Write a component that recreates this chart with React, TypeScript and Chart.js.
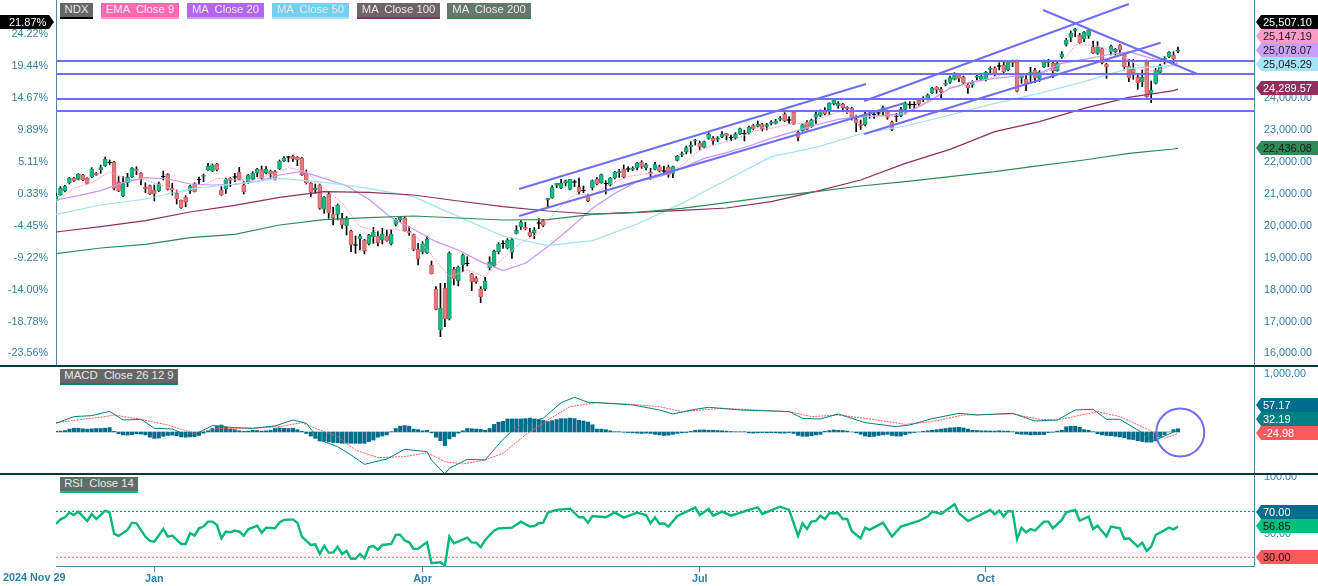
import React, { useEffect, useRef } from 'react';
import { Chart, registerables } from 'chart.js';

Chart.register(...registerables);

// daily candles, NDX 2024 Nov 29 onward
const opens = [
  20791, 20979, 21094, 21345, 21502, 21460, 21596, 21491, 21533, 21658,
  21763, 21888, 21982, 21993, 21366, 20937, 21355, 21544, 21784, 21648,
  21220, 21261, 21115, 21105, 21533, 21617, 21178, 21021, 20802, 20896,
  21105, 21324, 21449, 21554, 21763, 21721, 21941, 21115, 21167, 21491,
  21523, 21679, 21282, 21376, 21470, 21658, 21763, 21669, 21711, 21700,
  21784, 22045, 22150, 22181, 22150, 22118, 21658, 21335, 21136, 21282,
  20519, 21000, 20363, 20363, 20216, 20007, 19840, 19391, 19600, 19548,
  19443, 19663, 19683, 19558, 19683, 19433, 20049, 20195, 20248, 19840,
  19725, 19265, 19192, 19161, 18764, 18022, 16747, 18043, 17092, 18638,
  18283, 18785, 18816, 18482, 18367, 18022, 18032, 18680, 18753, 19192,
  19433, 19307, 19171, 19767, 19965, 19955, 19809, 19777, 20081, 20164,
  20822, 20885, 21272, 21199, 21355, 21146, 21366, 21209, 21094, 20927,
  21199, 21460, 21355, 21314, 21282, 21512, 21669, 21773, 21773, 21773,
  21826, 21993, 21826, 21690, 21773, 21857, 21711, 21836, 21648, 22056,
  22223, 22327, 22484, 22662, 22589, 22463, 22745, 22745, 22714, 22798,
  22892, 22756, 22766, 22892, 22881, 22923, 23142, 23121, 23174, 23121,
  23216, 23216, 23341, 23508, 23310, 23571, 22933, 22986, 23257, 23111,
  23404, 23466, 23613, 23644, 23832, 23769, 23811, 23717, 23686, 23341,
  23195, 23174, 23508, 23487, 23529, 23581, 23592, 23247, 23414, 23445,
  23654, 23790, 23790, 23947, 23947, 24000, 24177, 24344, 24281, 24438,
  24501, 24595, 24741, 24658, 24407, 24417, 24658, 24595, 24584, 24908,
  24950, 25002, 25044, 24887, 25159, 25159, 24637, 24595, 24720, 24877,
  24626, 24992, 25128, 25107, 24867, 25306, 25692, 25912, 26121, 25974,
  25859, 25953, 25609, 25410, 25556, 25065, 25452, 25462, 25661, 25389,
  25013, 24919, 24658, 24511, 25138, 24156, 24470, 24814, 25201, 25295,
  25347, 25473,
];
const closes = [
  20937, 21178, 21251, 21491, 21418, 21617, 21439, 21335, 21784, 21606,
  21826, 22087, 22003, 21178, 21094, 21324, 21523, 21805, 21732, 21481,
  21167, 21011, 21011, 21324, 21554, 21146, 21136, 20843, 20561, 20749,
  21251, 21073, 21470, 21596, 21878, 21909, 21753, 20979, 21460, 21429,
  21544, 21460, 21063, 21585, 21648, 21773, 21491, 21773, 21627, 21460,
  22035, 22129, 22171, 22108, 22066, 21606, 21345, 21052, 21178, 20551,
  20896, 20415, 20248, 20645, 20039, 20237, 19401, 19412, 19673, 19224,
  19715, 19809, 19474, 19736, 19537, 19746, 20185, 20279, 19851, 19788,
  19265, 18973, 19422, 19579, 18503, 17384, 17416, 17092, 19140, 18346,
  18701, 19088, 18837, 18252, 18252, 17781, 18273, 18858, 19203, 19433,
  19454, 19548, 19569, 19861, 20112, 19903, 19694, 19861, 20101, 20018,
  20864, 21220, 21335, 21335, 21418, 21460, 21387, 21063, 21115, 20791,
  21418, 21314, 21606, 21335, 21491, 21679, 21700, 21544, 21794, 21805,
  21961, 21857, 21920, 21638, 21920, 21721, 21732, 21596, 21857, 22181,
  22265, 22453, 22526, 22693, 22474, 22641, 22881, 22672, 22745, 22871,
  22818, 22777, 22871, 23048, 22902, 23090, 23048, 23184, 23048, 23174,
  23257, 23289, 23383, 23299, 23330, 23195, 22777, 23174, 23027, 23320,
  23508, 23613, 23518, 23842, 23947, 23842, 23707, 23675, 23404, 23236,
  23132, 23477, 23529, 23508, 23550, 23707, 23404, 23027, 23435, 23654,
  23842, 23811, 23811, 23832, 23989, 24104, 24313, 24260, 24198, 24470,
  24647, 24773, 24626, 24490, 24334, 24511, 24699, 24689, 24814, 24940,
  24783, 25023, 24825, 25149, 25107, 24219, 24720, 24449, 24825, 24647,
  24814, 25159, 25170, 24867, 25097, 25389, 25828, 26047, 26162, 25744,
  26068, 26142, 25431, 25609, 25117, 24992, 25629, 25535, 25514, 24992,
  24647, 24793, 24490, 24658, 24052, 24260, 24887, 25023, 25253, 25441,
  25243, 25507.1,
];
const highs = [
  21021, 21230, 21272, 21523, 21523, 21638, 21617, 21512, 21826, 21679,
  21909, 22160, 22066, 22024, 21544, 21544, 21648, 21826, 21857, 21669,
  21355, 21282, 21282, 21376, 21721, 21638, 21335, 21125, 20812, 20948,
  21282, 21355, 21533, 21627, 21961, 21941, 21961, 21230, 21502, 21523,
  21648, 21836, 21387, 21617, 21700, 21805, 21878, 21857, 21753, 21732,
  22066, 22171, 22181, 22223, 22171, 22139, 21753, 21355, 21314, 21314,
  20917, 21063, 20582, 20687, 20394, 20290, 19872, 19683, 19736, 19579,
  19736, 19955, 19819, 19924, 19872, 19872, 20237, 20290, 20290, 19976,
  19746, 19454, 19506, 19683, 18900, 18095, 18200, 18200, 19192, 18701,
  18743, 19119, 19035, 18513, 18408, 18095, 18388, 19035, 19245, 19474,
  19537, 19600, 19610, 20007, 20164, 20112, 19924, 19945, 20227, 20206,
  20864, 21261, 21335, 21460, 21439, 21460, 21439, 21502, 21251, 21000,
  21439, 21512, 21627, 21418, 21523, 21711, 21773, 21909, 21857, 21857,
  21982, 22045, 21961, 21805, 21993, 21909, 21878, 21909, 21878, 22212,
  22317, 22505, 22641, 22714, 22662, 22662, 22923, 22798, 22798, 22954,
  22902, 22850, 22923, 23069, 23000, 23132, 23184, 23289, 23216, 23216,
  23299, 23341, 23425, 23550, 23425, 23581, 22986, 23195, 23299, 23351,
  23581, 23634, 23707, 23863, 23968, 23895, 23842, 23738, 23717, 23477,
  23320, 23581, 23581, 23581, 23634, 23759, 23634, 23289, 23529, 23717,
  23884, 23895, 23895, 24000, 24051, 24135, 24344, 24365, 24344, 24574,
  24699, 24804, 24783, 24699, 24470, 24553, 24762, 24731, 24846, 24992,
  24992, 25117, 25128, 25180, 25201, 25201, 24762, 24731, 24971, 24940,
  24867, 25201, 25222, 25138, 25149, 25462, 25880, 26110, 26194, 26037,
  26089, 26162, 25797, 25776, 25577, 25097, 25671, 25567, 25682, 25410,
  25222, 25222, 24762, 24887, 25201, 24543, 24940, 25076, 25306, 25462,
  25462, 25609,
];
const lows = [
  20770, 20958, 21063, 21314, 21397, 21439, 21418, 21314, 21512, 21585,
  21648, 21867, 21920, 21125, 21073, 20917, 21230, 21523, 21606, 21282,
  21042, 20990, 20781, 21073, 21439, 21125, 20969, 20687, 20551, 20603,
  21021, 21063, 21303, 21387, 21742, 21700, 21721, 20958, 21021, 21230,
  21387, 21439, 21000, 21335, 21439, 21544, 21460, 21627, 21491, 21439,
  21763, 22024, 22003, 22024, 21888, 21585, 21314, 20917, 21021, 20519,
  20394, 20237, 20028, 20185, 19924, 19715, 19192, 19140, 19245, 19119,
  19401, 19454, 19370, 19433, 19516, 19401, 19997, 20133, 19830, 19704,
  19224, 18774, 19119, 19140, 18492, 17364, 16527, 16841, 17050, 18147,
  18116, 18565, 18743, 17970, 18200, 17593, 17970, 18618, 18722, 19119,
  19297, 19276, 18983, 19746, 19892, 19872, 19663, 19600, 19913, 19976,
  20582, 20864, 21199, 21167, 21251, 21125, 21230, 20990, 21042, 20760,
  21125, 21282, 21335, 21000, 21251, 21470, 21523, 21491, 21700, 21732,
  21753, 21805, 21753, 21460, 21753, 21690, 21669, 21523, 21512, 22035,
  22171, 22254, 22275, 22536, 22380, 22442, 22714, 22557, 22641, 22766,
  22693, 22672, 22714, 22871, 22662, 22881, 23007, 23100, 22975, 23007,
  23163, 23195, 23289, 23268, 23216, 23174, 22662, 22965, 23007, 23090,
  23216, 23425, 23477, 23498, 23790, 23686, 23634, 23529, 23320, 22954,
  23027, 23132, 23372, 23372, 23477, 23477, 23341, 22986, 23268, 23425,
  23508, 23686, 23686, 23780, 23895, 23947, 24156, 24156, 23989, 24386,
  24470, 24574, 24522, 24449, 24156, 24344, 24574, 24553, 24543, 24762,
  24699, 24887, 24762, 24856, 24992, 24198, 24470, 24240, 24470, 24490,
  24522, 24971, 24992, 24647, 24846, 25253, 25640, 25776, 25932, 25723,
  25776, 25880, 25410, 25379, 25076, 24626, 25358, 25358, 25410, 24887,
  24522, 24595, 24281, 24365, 24031, 23863, 24449, 24783, 25076, 25274,
  25117, 25431,
];

// moving averages at these bar numbers
const slowIdx = [0, 10, 20, 30, 40, 50, 60, 70, 80, 90, 100, 110, 120, 130, 140, 150, 160, 170, 180, 190, 200, 210, 220, 230, 240, 250, 251];
const ma200 = [19130, 19307, 19422, 19631, 19736, 20028, 20195, 20258, 20310, 20248, 20185, 20195, 20363, 20425, 20551, 20728, 20917, 21073, 21251, 21387, 21544, 21700, 21888, 22066, 22275, 22411, 22436.08];
const ma100 = [19809, 19976, 20164, 20436, 20645, 20896, 21073, 21052, 20969, 20781, 20603, 20467, 20373, 20425, 20488, 20561, 20760, 21084, 21439, 21961, 22400, 22954, 23268, 23686, 24031, 24240, 24289.57];
const ma50 = [20363, 20655, 20843, 21157, 21314, 21491, 21366, 21178, 20917, 20290, 19683, 19380, 19537, 20060, 20707, 21439, 22171, 22463, 22881, 23132, 23477, 23842, 24156, 24522, 24940, 25023, 25045.29];
const ma20Idx = [0, 5, 10, 15, 20, 25, 30, 35, 40, 45, 50, 55, 60, 65, 70, 75, 80, 85, 90, 95, 100, 105, 110, 115, 120, 125, 130, 135, 140, 145, 150, 155, 160, 165, 170, 175, 180, 185, 190, 195, 200, 205, 210, 215, 220, 225, 230, 235, 240, 245, 250, 251];
const ma20 = [20812, 20948, 21105, 21355, 21512, 21470, 21314, 21282, 21303, 21397, 21596, 21711, 21491, 21261, 20833, 20258, 19892, 19506, 19245, 18879, 18597, 18827, 19349, 19924, 20551, 21021, 21387, 21544, 21805, 22118, 22296, 22505, 22745, 22954, 23163, 23341, 23425, 23456, 23529, 23895, 24313, 24522, 24626, 24699, 24783, 25097, 25222, 25358, 25462, 25253, 25097, 25078.07];
const emaIdx = [0, 4, 8, 12, 16, 20, 24, 28, 32, 36, 40, 44, 48, 52, 56, 60, 64, 68, 72, 76, 80, 84, 88, 92, 96, 100, 104, 108, 112, 116, 120, 124, 128, 132, 136, 140, 144, 148, 152, 156, 160, 164, 168, 172, 176, 180, 184, 188, 192, 196, 200, 204, 208, 212, 216, 220, 224, 228, 232, 236, 240, 244, 248, 251];
const ema9 = [20760, 21178, 21355, 21700, 21460, 21439, 21251, 21052, 21209, 21491, 21439, 21439, 21596, 21826, 21700, 21178, 20728, 19976, 19851, 19903, 19767, 19088, 18408, 18617, 18408, 18983, 19474, 19767, 20498, 21000, 20969, 21314, 21544, 21648, 21596, 21909, 22380, 22568, 22714, 22975, 23059, 23184, 23216, 23425, 23613, 23404, 23456, 23445, 23654, 23926, 24344, 24407, 24595, 24762, 24741, 24762, 24940, 25671, 25671, 25494, 25222, 24835, 24940, 25147.19];

// drawn trend lines: [bar, price, bar, price]
const levelPrices = [25170, 24762, 23978, 23602];
const trendLines = [
  [103.6, 21157, 181.2, 24449],
  [103.6, 20310, 189.9, 23853],
  [180.8, 23916, 240, 26957],
  [180.8, 22881, 247.1, 25743],
  [220.8, 26768, 255.2, 24771],
];

const histogram = [
  12, 15, 25, 50, 65, 65, 55, 50, 55, 60,
  60, 65, 75, 10, -30, -50, -55, -45, -30, -35,
  -50, -90, -110, -105, -75, -60, -55, -65, -85, -90,
  -85, -80, -60, -20, 20, 60, 105, 120, 80, 50,
  40, 20, 10, 15, 30, 25, 15, 20, 30, 60,
  70, 65, 60, 65, 40, 10, -25, -70, -110, -155,
  -155, -170, -180, -185, -195, -195, -195, -195, -195, -195,
  -165, -140, -90, -70, -50, 5, 60, 100, 110, 100,
  50, 40, 20, 30, -15, -90, -150, -235, -120, -80,
  -20, 20, 60, 55, 50, 45, 30, 60, 130, 170,
  185, 225, 225, 225, 225, 230, 240, 225, 215, 200,
  180, 195, 215, 230, 230, 240, 230, 200, 190, 170,
  125, 50, 50, 40, 20, 5, 5, -5, -10, -15,
  -20, -25, -20, -25, -40, -50, -60, -55, -40, -25,
  -15, -10, 10, 30, 35, 35, 30, 30, 25, 20,
  15, 8, 5, 3, 5, -15, -20, -15, -10, -15,
  -12, -15, -20, -20, -10, -25, -60, -75, -75, -65,
  -50, -40, 10, 25, 35, 30, 25, 15, 0, -15,
  -40, -70, -80, -75, -60, -50, -40, -60, -70, -70,
  -45, -20, -10, 0, 10, 20, 30, 40, 50, 60,
  70, 75, 80, 70, 50, 30, 25, 20, 20, 18,
  15, 20, 15, 15, 5, -30, -40, -40, -50, -45,
  -45, -45, -10, -5, 15, 30, 90, 100, 100, 80,
  40, 30, 5, -30, -50, -60, -65, -75, -85, -100,
  -125, -130, -150, -165, -175, -175, -155, -90, -50, 0,
  40, 57.17,
];
const macdIdx = [0, 4, 8, 12, 15, 19, 22, 26, 30, 35, 40, 44, 49, 53, 56, 59, 63, 66, 69, 74, 78, 83, 84, 87, 88, 92, 96, 100, 102, 106, 109, 113, 116, 119, 121, 129, 135, 138, 143, 146, 153, 164, 167, 171, 175, 181, 188, 191, 196, 202, 206, 214, 219, 224, 228, 232, 235, 238, 243, 245, 246, 251];
const macdLine = [150, 265, 282, 356, 207, 218, 63, 52, -80, 109, 75, 63, 104, 207, 150, -138, -253, -397, -558, -466, -299, -339, -483, -725, -627, -472, -483, -127, 17, 178, 236, 506, 598, 512, 506, 466, 380, 311, 391, 426, 380, 351, 236, 224, 311, 161, 92, 121, 230, 322, 293, 322, 190, 207, 380, 391, 219, 219, -12, -138, -138, 32.19];
const signalIdx = [0, 11, 13, 19, 25, 31, 36, 44, 50, 55, 59, 63, 67, 72, 78, 83, 87, 91, 96, 100, 105, 110, 115, 121, 129, 135, 140, 149, 164, 169, 175, 181, 190, 196, 203, 214, 220, 224, 233, 238, 245, 248, 251];
const signalLine = [161, 265, 293, 218, 121, -23, 63, 63, 92, 161, 35, -80, -311, -443, -426, -357, -512, -552, -483, -368, -52, 207, 437, 506, 477, 437, 351, 408, 351, 265, 293, 236, 132, 178, 293, 311, 219, 207, 351, 265, 17, -109, -24.98];

const rsiIdx = [0, 1, 2, 3, 4, 5, 7, 8, 9, 11, 12, 13, 14, 16, 17, 18, 20, 21, 22, 24, 25, 26, 28, 29, 30, 31, 32, 33, 34, 35, 36, 37, 38, 39, 40, 41, 42, 43, 45, 46, 47, 49, 50, 51, 53, 54, 55, 57, 58, 59, 60, 61, 62, 63, 64, 65, 66, 67, 68, 69, 70, 71, 72, 73, 75, 76, 77, 78, 79, 80, 81, 83, 84, 86, 87, 88, 89, 92, 93, 94, 95, 96, 98, 99, 102, 104, 106, 107, 108, 109, 110, 112, 115, 117, 118, 119, 120, 123, 125, 127, 130, 132, 133, 134, 135, 136, 137, 139, 143, 144, 146, 147, 149, 151, 155, 157, 158, 162, 164, 166, 167, 168, 169, 170, 171, 172, 173, 175, 176, 177, 178, 180, 181, 182, 185, 187, 189, 193, 195, 196, 198, 201, 202, 204, 209, 210, 211, 212, 213, 214, 215, 216, 217, 218, 219, 221, 222, 223, 225, 226, 228, 229, 231, 232, 233, 235, 236, 238, 239, 240, 242, 243, 244, 245, 246, 249, 250, 251];
const rsiValues = [59, 63, 64.8, 69, 66.8, 69.7, 61.6, 67.7, 63.3, 70.6, 68.8, 50.3, 48.6, 53.8, 60.1, 59.6, 48, 44.2, 43.6, 54.6, 48, 48.8, 41.6, 41.6, 50.9, 48.8, 55.2, 56.7, 61, 61, 58, 46.5, 52.3, 51.7, 53.2, 52.3, 48.8, 54.3, 57.5, 51.4, 55.8, 55.2, 60.4, 62.5, 63, 60.1, 48, 40.7, 41.3, 32.9, 39.9, 34, 34, 39.3, 32.9, 35.5, 28.6, 28.6, 32.9, 29.1, 38.7, 39.9, 36.4, 40.7, 41.6, 49.4, 49.7, 44.5, 43, 37.2, 37.5, 43, 24.8, 25.7, 22.8, 48, 42.2, 47.1, 43, 42.8, 38.7, 45, 53.2, 55.2, 55.8, 61, 56.7, 57.2, 59.6, 60.1, 68.8, 71.2, 72.3, 64.8, 64.8, 60.1, 65.9, 64.8, 69.1, 64.5, 68.8, 66.8, 59.6, 64.8, 59, 59.6, 56.7, 65.9, 73.2, 66.8, 72, 66.2, 69.7, 66.2, 71.2, 73.5, 67.7, 74, 71.2, 48.6, 59.6, 54.6, 61, 61.6, 66.2, 63.3, 68.3, 68.3, 63.3, 63.3, 52.9, 46.5, 55.8, 53.8, 60.1, 48, 56.7, 61.6, 65.4, 69.7, 67.7, 76.1, 68.3, 61.6, 71.2, 67.4, 70.6, 65.4, 70.3, 69.7, 45.7, 55.8, 51.7, 54.6, 53.2, 61, 61, 55.2, 62.5, 69.1, 71.2, 61.9, 65.4, 54.6, 57.5, 48, 56.7, 55.2, 45.9, 46.5, 39.3, 42.8, 35.5, 39.3, 49.4, 55.8, 54.3, 56.85];

// axes
const priceTicks = [16000, 17000, 18000, 19000, 20000, 21000, 22000, 23000, 24000, 25000, 26000];
const percentLabels = ['-23.56%', '-18.78%', '-14.00%', '-9.22%', '-4.45%', '0.33%', '5.11%', '9.89%', '14.67%', '19.44%', '24.22%'];
const macdTicks = [1000];
const rsiTicks = [50, 100];
const rsiLevels = [70, 30];
const monthTicks = [22, 82, 144, 208];
const monthLabels = ['Jan', 'Apr', 'Jul', 'Oct'];
const startLabel = '2024 Nov 29';
const circleMark = [251.5, -9];

const FONT = '"Liberation Sans", Arial, sans-serif';
const AXIS_BLUE = '#2f7ea8';
const AXIS_LINE = '#4d8aa8';
const TREND = '#6e6ef6';
const X_MIN = 0;
const X_MAX = 268;

const fmtPrice = (v: number) =>
  v.toLocaleString('en-US', { minimumFractionDigits: 2, maximumFractionDigits: 2 });

const toPoints = (idx: number[], vals: number[]) => idx.map((x, k) => ({ x, y: vals[k] }));

const line = (label: string, data: any[], color: string, width = 1, dash: number[] = [], order = 2) => ({
  type: 'line',
  label,
  data,
  borderColor: color,
  borderWidth: width,
  borderDash: dash,
  pointRadius: 0,
  tension: 0,
  order,
});

// price tags sitting on the two side axes
type Tag = { text: string; y: number; bg: string; fg: string };

const tagPlugin = (right: Tag[], left: Tag[] = [], extra?: (ctx: CanvasRenderingContext2D) => void) => ({
  id: 'tags',
  afterDraw(chart: any) {
    const ctx = chart.ctx;
    ctx.save();
    ctx.font = `11px ${FONT}`;
    ctx.textBaseline = 'middle';
    ctx.textAlign = 'left';
    right.forEach((t) => {
      ctx.fillStyle = t.bg;
      ctx.beginPath();
      ctx.moveTo(1256, t.y);
      ctx.lineTo(1261, t.y - 7);
      ctx.lineTo(1318, t.y - 7);
      ctx.lineTo(1318, t.y + 7);
      ctx.lineTo(1261, t.y + 7);
      ctx.closePath();
      ctx.fill();
      ctx.fillStyle = t.fg;
      ctx.fillText(t.text, 1263, t.y + 0.5);
    });
    left.forEach((t) => {
      ctx.fillStyle = t.bg;
      ctx.beginPath();
      ctx.moveTo(0, t.y - 7);
      ctx.lineTo(49, t.y - 7);
      ctx.lineTo(54, t.y);
      ctx.lineTo(49, t.y + 7);
      ctx.lineTo(0, t.y + 7);
      ctx.closePath();
      ctx.fill();
      ctx.fillStyle = t.fg;
      ctx.fillText(t.text, 9, t.y + 0.5);
    });
    if (extra) extra(ctx);
    ctx.restore();
  },
});

const priceTags: Tag[] = [
  { text: '25,507.10', y: 22, bg: '#000000', fg: '#ffffff' },
  { text: '25,147.19', y: 36, bg: '#ff9ac9', fg: '#1a1a1a' },
  { text: '25,078.07', y: 50, bg: '#c9a0f8', fg: '#1a1a1a' },
  { text: '25,045.29', y: 64, bg: '#a6e3f7', fg: '#1a1a1a' },
  { text: '24,289.57', y: 88, bg: '#8e2f5e', fg: '#ffffff' },
  { text: '22,436.08', y: 148, bg: '#2e8b57', fg: '#1a1a1a' },
];
const macdTags: Tag[] = [
  { text: '57.17', y: 38, bg: '#006d8c', fg: '#ffffff' },
  { text: '32.19', y: 52, bg: '#008080', fg: '#ffffff' },
  { text: '-24.98', y: 66, bg: '#ff5a5a', fg: '#ffffff' },
];
const rsiTags: Tag[] = [
  { text: '70.00', y: 37, bg: '#006d8c', fg: '#ffffff' },
  { text: '56.85', y: 51, bg: '#00c07f', fg: '#111111' },
  { text: '30.00', y: 82, bg: '#ff5a5a', fg: '#111111' },
];
const leftTags: Tag[] = [{ text: '21.87%', y: 22, bg: '#000000', fg: '#ffffff' }];

const chips = [
  { text: 'NDX', left: 60, top: 3, w: 33, bg: '#666666', under: '#000000' },
  { text: 'EMA  Close 9', left: 101, top: 3, w: 78, bg: '#ff69b4', under: '#ff9ac9' },
  { text: 'MA  Close 20', left: 187, top: 3, w: 77, bg: '#b565f5', under: '#c9a0f8' },
  { text: 'MA  Close 50', left: 272, top: 3, w: 77, bg: '#75cff0', under: '#a6e3f7' },
  { text: 'MA  Close 100', left: 357, top: 3, w: 83, bg: '#6f6468', under: '#8e2f5e' },
  { text: 'MA  Close 200', left: 447, top: 3, w: 84, bg: '#66776d', under: '#2e8b57' },
  { text: 'MACD  Close 26 12 9', left: 60, top: 369, w: 118, bg: '#666666', under: '#007f7f' },
  { text: 'RSI  Close 14', left: 60, top: 477, w: 78, bg: '#5f6e66', under: '#00c07f' },
];

const yAxis = (min: number, max: number, position: string, width: number, ticks: any, border: boolean, values?: number[]) => ({
  position,
  min,
  max,
  grid: { display: false, drawTicks: false },
  border: { display: border, color: AXIS_LINE, width: 1 },
  ticks: { color: AXIS_BLUE, font: { family: FONT, size: 10.8 }, autoSkip: false, maxRotation: 0, ...ticks },
  afterBuildTicks: (axis: any) => {
    if (values) axis.ticks = values.map((value) => ({ value }));
  },
  afterFit: (axis: any) => {
    axis.width = width;
    axis.paddingTop = 0;
    axis.paddingBottom = 0;
  },
});

const hiddenX = {
  type: 'linear',
  display: false,
  offset: false,
  min: X_MIN,
  max: X_MAX,
  grid: { offset: false, display: false },
};

const baseOptions = (scales: any) => ({
  responsive: false,
  animation: false,
  events: [],
  layout: { padding: 0, autoPadding: false },
  plugins: { legend: { display: false }, tooltip: { enabled: false } },
  scales,
});

const App = () => {
  const priceRef = useRef<HTMLCanvasElement>(null);
  const macdRef = useRef<HTMLCanvasElement>(null);
  const rsiRef = useRef<HTMLCanvasElement>(null);

  useEffect(() => {
    if (!priceRef.current || !macdRef.current || !rsiRef.current) return;

    const isDoji = closes.map((c, i) => Math.abs(c - opens[i]) <= 25);
    const bodyFill = closes.map((c, i) => (isDoji[i] ? '#000000' : c >= opens[i] ? '#12bd85' : '#e57a7a'));
    const bodyEdge = closes.map((c, i) => (isDoji[i] ? '#000000' : c >= opens[i] ? '#179a6e' : '#cc6068'));

    const trendSets = [
      ...levelPrices.map((p) =>
        line('level', [{ x: X_MIN, y: p }, { x: X_MAX, y: p }], TREND, 2, [], 0)
      ),
      ...trendLines.map((t) =>
        line('trend', [{ x: t[0], y: t[1] }, { x: t[2], y: t[3] }], TREND, 2, [], 0)
      ),
    ];

    const priceChart = new Chart(priceRef.current, {
      type: 'bar',
      data: {
        datasets: [
          {
            label: 'wick',
            data: highs.map((h, i) => ({ x: i, y: [lows[i], h] })),
            backgroundColor: '#000000',
            barThickness: 1,
            grouped: false,
            order: 6,
          },
          {
            label: 'NDX',
            data: opens.map((o, i) => ({ x: i, y: [o, closes[i]] })),
            backgroundColor: bodyFill,
            borderColor: bodyEdge,
            borderWidth: 1,
            borderSkipped: false,
            barThickness: 4,
            grouped: false,
            order: 5,
          },
          line('MA Close 200', toPoints(slowIdx, ma200), '#2e8b57', 1.2),
          line('MA Close 100', toPoints(slowIdx, ma100), '#8e2f5e', 1.2),
          line('MA Close 50', toPoints(slowIdx, ma50), '#a0e2f6', 1.2),
          line('MA Close 20', toPoints(ma20Idx, ma20), '#c795f8', 1.2),
          line('EMA Close 9', toPoints(emaIdx, ema9), '#ff9ac9', 1, [2, 1]),
          ...trendSets,
        ] as any,
      },
      options: baseOptions({
        x: hiddenX,
        y: yAxis(15639, 27082, 'left', 56, {
          padding: 8,
          callback: (v: number) => percentLabels[priceTicks.indexOf(v)],
        }, true, priceTicks),
        yRight: yAxis(15639, 27082, 'right', 64, { padding: 10, callback: (v: number) => fmtPrice(v) }, true, priceTicks),
      }) as any,
      plugins: [tagPlugin(priceTags, leftTags)] as any,
    });

    const macdChart = new Chart(macdRef.current, {
      type: 'bar',
      data: {
        datasets: [
          {
            label: 'Histogram',
            data: histogram.map((v, i) => ({ x: i, y: v })),
            backgroundColor: '#006d8c',
            barThickness: 3.4,
            grouped: false,
            order: 5,
          },
          line('MACD', toPoints(macdIdx, macdLine), '#007f7f', 1),
          line('Signal', toPoints(signalIdx, signalLine), '#ff5a5a', 1, [2, 1]),
          {
            type: 'line',
            label: 'mark',
            data: [{ x: circleMark[0], y: circleMark[1] }],
            showLine: false,
            pointRadius: 24,
            pointBorderWidth: 2,
            pointBorderColor: TREND,
            pointBackgroundColor: 'rgba(0,0,0,0)',
            order: 0,
          },
        ] as any,
      },
      options: baseOptions({
        x: hiddenX,
        y: yAxis(-725, 1121, 'left', 56, { display: false }, false),
        yRight: yAxis(-725, 1121, 'right', 64, { padding: 10, callback: (v: number) => fmtPrice(v) }, true, macdTicks),
      }) as any,
      plugins: [tagPlugin(macdTags)] as any,
    });

    const rsiChart = new Chart(rsiRef.current, {
      type: 'line',
      data: {
        datasets: [
          line('RSI Close 14', toPoints(rsiIdx, rsiValues), '#00b87a', 2.4),
          line('70', [{ x: X_MIN, y: rsiLevels[0] }, { x: X_MAX, y: rsiLevels[0] }], '#0b5f7a', 1, [2, 2], 3),
          line('30', [{ x: X_MIN, y: rsiLevels[1] }, { x: X_MAX, y: rsiLevels[1] }], '#ff5a5a', 1, [2, 2], 3),
        ] as any,
      },
      options: baseOptions({
        x: {
          type: 'linear',
          min: X_MIN,
          max: X_MAX,
          offset: false,
          grid: { display: true, drawOnChartArea: false, drawTicks: true, tickLength: 6, color: AXIS_LINE },
          border: { display: true, color: AXIS_LINE, width: 1 },
          ticks: {
            color: AXIS_BLUE,
            font: { family: FONT, size: 10.8, weight: 'bold' },
            autoSkip: false,
            maxRotation: 0,
            padding: 1,
            callback: (v: number) => monthLabels[monthTicks.indexOf(v)],
          },
          afterBuildTicks: (axis: any) => {
            axis.ticks = monthTicks.map((value) => ({ value }));
          },
          afterFit: (axis: any) => {
            axis.height = 20;
            axis.paddingLeft = 0;
            axis.paddingRight = 0;
          },
        },
        y: yAxis(22.4, 101.6, 'left', 56, { display: false }, false),
        yRight: yAxis(22.4, 101.6, 'right', 64, { padding: 10, callback: (v: number) => fmtPrice(v) }, true, rsiTicks),
      }) as any,
      plugins: [
        tagPlugin(rsiTags, [], (ctx) => {
          ctx.fillStyle = AXIS_BLUE;
          ctx.font = `bold 10.8px ${FONT}`;
          ctx.fillText(startLabel, 3, 103.5);
        }),
      ] as any,
    });

    return () => {
      priceChart.destroy();
      macdChart.destroy();
      rsiChart.destroy();
    };
  }, []);

  const canvasStyle = (top: number, height: number): React.CSSProperties => ({
    position: 'absolute',
    left: 0,
    top,
    width: 1318,
    height,
    display: 'block',
  });

  return (
    <div style={{ position: 'fixed', left: 0, top: 0, width: 1318, height: 586, background: '#fff', overflow: 'hidden' }}>
      <canvas ref={priceRef} width={1318} height={365} style={canvasStyle(0, 365)} />
      <canvas ref={macdRef} width={1318} height={107} style={canvasStyle(367, 107)} />
      <canvas ref={rsiRef} width={1318} height={111} style={canvasStyle(475, 111)} />
      <div style={{ position: 'absolute', left: 0, top: 365, width: 1318, height: 2, background: '#0b3444' }} />
      <div style={{ position: 'absolute', left: 0, top: 473, width: 1318, height: 2, background: '#0b3444' }} />
      {chips.map((c) => (
        <div
          key={c.text}
          style={{
            position: 'absolute',
            left: c.left,
            top: c.top,
            width: c.w,
            height: 14,
            lineHeight: '14px',
            background: c.bg,
            borderBottom: `2px solid ${c.under}`,
            color: '#e8e8e8',
            font: `11.3px ${FONT}`,
            whiteSpace: 'pre',
            textAlign: 'center',
            overflow: 'hidden',
          }}
        >
          {c.text}
        </div>
      ))}
    </div>
  );
};

export default App;
